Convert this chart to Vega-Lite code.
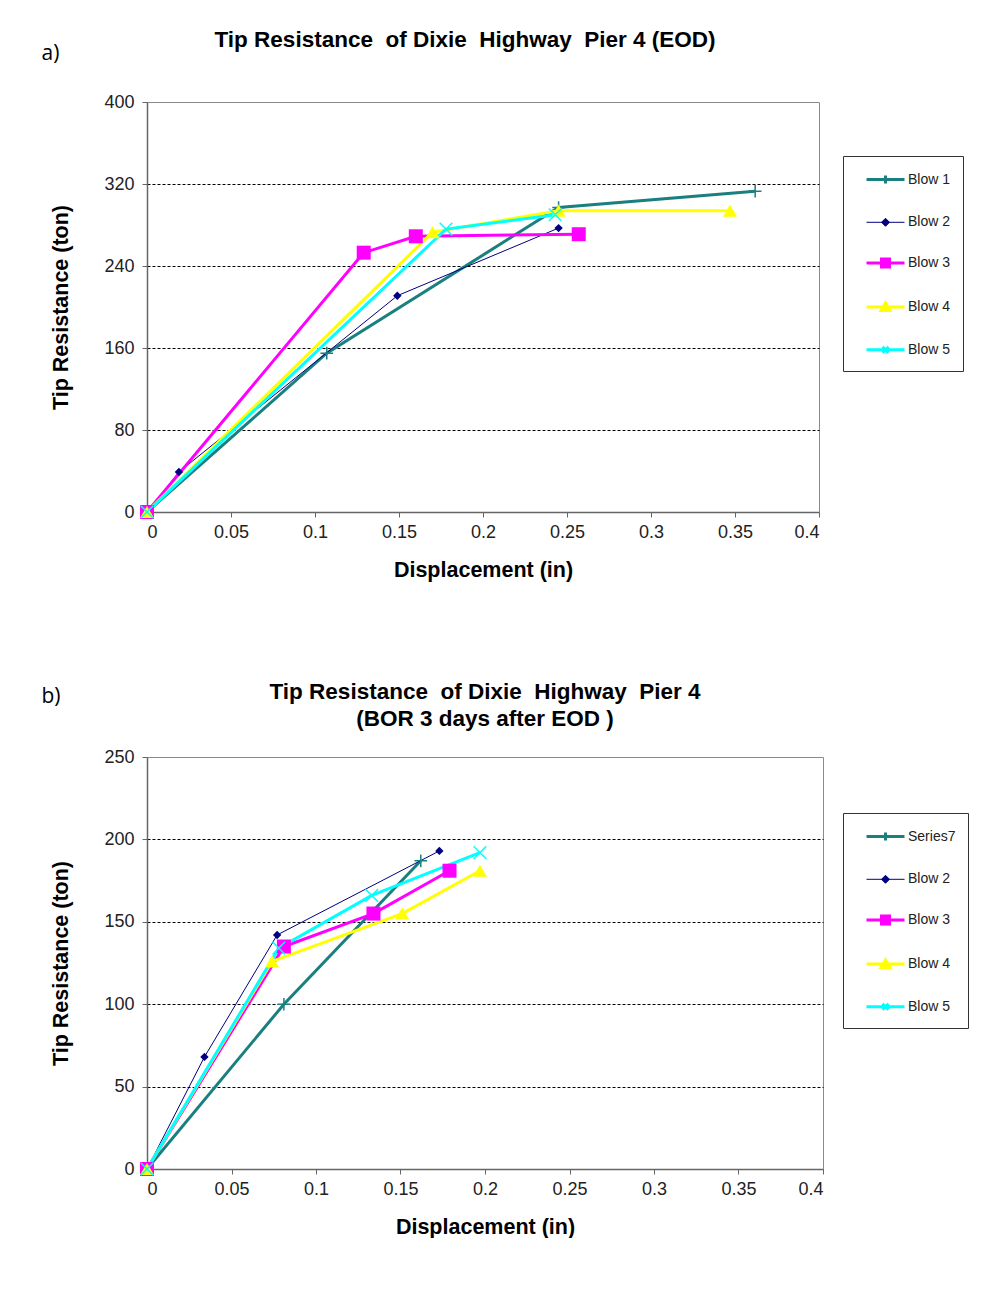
{
  "$schema": "https://vega.github.io/schema/vega-lite/v6.json",
  "padding": {"left": 41, "top": 28, "right": 0, "bottom": 0},
  "background": "white",
  "datasets": {
    "a": [
      {"series": "Blow 1", "x": 0, "y": 0},
      {"series": "Blow 1", "x": 0.107, "y": 155},
      {"series": "Blow 1", "x": 0.245, "y": 297},
      {"series": "Blow 1", "x": 0.362, "y": 313},
      {"series": "Blow 2", "x": 0, "y": 0},
      {"series": "Blow 2", "x": 0.019, "y": 39},
      {"series": "Blow 2", "x": 0.149, "y": 211},
      {"series": "Blow 2", "x": 0.245, "y": 277},
      {"series": "Blow 3", "x": 0, "y": 0},
      {"series": "Blow 3", "x": 0.129, "y": 253},
      {"series": "Blow 3", "x": 0.160, "y": 269},
      {"series": "Blow 3", "x": 0.257, "y": 271},
      {"series": "Blow 4", "x": 0, "y": 0},
      {"series": "Blow 4", "x": 0.170, "y": 273},
      {"series": "Blow 4", "x": 0.245, "y": 294},
      {"series": "Blow 4", "x": 0.347, "y": 294},
      {"series": "Blow 5", "x": 0, "y": 0},
      {"series": "Blow 5", "x": 0.178, "y": 276},
      {"series": "Blow 5", "x": 0.243, "y": 290}
    ],
    "b": [
      {"series": "Series7", "x": 0, "y": 0},
      {"series": "Series7", "x": 0.081, "y": 100},
      {"series": "Series7", "x": 0.162, "y": 187},
      {"series": "Blow 2", "x": 0, "y": 0},
      {"series": "Blow 2", "x": 0.034, "y": 68},
      {"series": "Blow 2", "x": 0.077, "y": 142},
      {"series": "Blow 2", "x": 0.173, "y": 193},
      {"series": "Blow 3", "x": 0, "y": 0},
      {"series": "Blow 3", "x": 0.081, "y": 135},
      {"series": "Blow 3", "x": 0.134, "y": 155},
      {"series": "Blow 3", "x": 0.179, "y": 181},
      {"series": "Blow 4", "x": 0, "y": 0},
      {"series": "Blow 4", "x": 0.074, "y": 126},
      {"series": "Blow 4", "x": 0.151, "y": 155},
      {"series": "Blow 4", "x": 0.197, "y": 181},
      {"series": "Blow 5", "x": 0, "y": 0},
      {"series": "Blow 5", "x": 0.078, "y": 134},
      {"series": "Blow 5", "x": 0.133, "y": 166},
      {"series": "Blow 5", "x": 0.197, "y": 192}
    ]
  },
  "config": {
    "font": "Liberation Sans",
    "view": {"stroke": "#8a8a8a", "strokeWidth": 1},
    "axis": {
      "labelFont": "Liberation Sans", "labelFontSize": 18, "labelColor": "#222",
      "titleFont": "Liberation Sans", "titleFontSize": 21.5, "titleFontWeight": "bold", "titleColor": "black",
      "domainColor": "#666", "tickColor": "#666", "tickSize": 5, "domainWidth": 1.5
    },
    "title": {"font": "Liberation Sans", "fontSize": 22.5, "fontWeight": "bold", "color": "black"},
    "legend": {
      "strokeColor": "#333", "padding": 12, "labelFont": "Liberation Sans", "labelFontSize": 14, "labelColor": "#222",
      "symbolType": "M0,0L3.8,0", "symbolSize": 400, "rowPadding": 21.8, "symbolStrokeWidth": 3, "labelOffset": 30
    }
  },
  "spacing": 99,
  "resolve": {
    "scale": {"color": "independent", "strokeWidth": "independent"},
    "legend": {"color": "independent", "strokeWidth": "independent"}
  },
  "vconcat": [
    {
      "title": {"text": "a)", "anchor": "start", "font": "Open Sans", "fontSize": 21, "fontWeight": "normal", "dy": 40, "dx": -9},
      "vconcat": [
        {
          "width": 672, "height": 410,
          "data": {"name": "a"},
          "title": {"text": "Tip Resistance\u00a0 of Dixie\u00a0 Highway\u00a0 Pier 4 (EOD)", "offset": 42, "dx": -18},
          "encoding": {
            "x": {"field": "x", "type": "quantitative", "scale": {"domain": [0, 0.4]},
              "axis": {"title": "Displacement (in)", "values": [0, 0.05, 0.1, 0.15, 0.2, 0.25, 0.3, 0.35, 0.4], "format": ".2~f", "grid": false, "labelPadding": 6, "titlePadding": 18}},
            "y": {"field": "y", "type": "quantitative", "scale": {"domain": [0, 400]},
              "axis": {"title": "Tip Resistance (ton)", "values": [0, 80, 160, 240, 320, 400], "grid": true, "gridDash": [3, 2], "gridColor": {"condition": {"test": "datum.value === 0 || datum.value === 400", "value": "transparent"}, "value": "black"}, "labelPadding": 8, "titlePadding": 31}},
            "color": {"field": "series", "type": "nominal",
              "scale": {"domain": ["Blow 1", "Blow 2", "Blow 3", "Blow 4", "Blow 5"], "range": ["#1a7f7f", "#000080", "#ff00ff", "#ffff00", "#00ffff"]},
              "legend": {"title": null, "orient": "none", "legendX": 696, "legendY": 54, "symbolType": "M0,0L3.8,0", "symbolSize": 400,
                "encode": {"symbols": {"update": {"shape": {"signal": "datum.value === 'Blow 2' ? 'M0,0L3.8,0M1.9,-0.4L2.3,0L1.9,0.4L1.5,0Z' : datum.value === 'Blow 3' ? 'M0,0L3.8,0M1.5,-0.4L2.3,-0.4L2.3,0.4L1.5,0.4Z' : datum.value === 'Blow 4' ? 'M0,0L3.8,0M1.9,-0.4L2.35,0.35L1.45,0.35Z' : datum.value === 'Blow 5' ? 'M0,0L3.8,0M1.6,-0.3L2.2,0.3M1.6,0.3L2.2,-0.3' : 'M0,0L3.8,0M1.9,-0.4L1.9,0.4'"}}}}}}
          },
          "layer": [
            {
              "mark": {"type": "line"},
              "encoding": {
                "strokeWidth": {"field": "series", "type": "nominal",
                  "scale": {"type": "ordinal", "domain": ["Blow 1", "Blow 2", "Blow 3", "Blow 4", "Blow 5"], "range": [3, 1, 3, 3, 3]},
                  "legend": {"title": null, "orient": "none", "legendX": 696, "legendY": 54}}
              }
            },
            {"transform": [{"filter": {"field": "series", "equal": "Blow 1"}}], "mark": {"type": "point", "shape": "M-1,0L1,0M0,-1L0,1", "size": 160, "filled": false, "opacity": 1, "strokeWidth": 1.5}},
            {"transform": [{"filter": {"field": "series", "equal": "Blow 2"}}], "mark": {"type": "point", "shape": "diamond", "size": 70, "filled": true, "opacity": 1}},
            {"transform": [{"filter": {"field": "series", "equal": "Blow 3"}}], "mark": {"type": "point", "shape": "square", "size": 196, "filled": true, "opacity": 1}},
            {"transform": [{"filter": {"field": "series", "equal": "Blow 4"}}], "mark": {"type": "point", "shape": "triangle-up", "size": 196, "filled": true, "opacity": 1}},
            {"transform": [{"filter": {"field": "series", "equal": "Blow 5"}}], "mark": {"type": "point", "shape": "M-1,-1L1,1M-1,1L1,-1", "size": 160, "filled": false, "opacity": 1, "strokeWidth": 1.5}}
          ]
        }
      ]
    },
    {
      "title": {"text": "b)", "anchor": "start", "font": "Open Sans", "fontSize": 21, "fontWeight": "normal", "dy": 31, "dx": -9},
      "vconcat": [
        {
          "width": 676, "height": 412,
          "data": {"name": "b"},
          "title": {"text": ["Tip Resistance\u00a0 of Dixie\u00a0 Highway\u00a0 Pier 4", "(BOR 3 days after EOD )"], "offset": 18, "lineHeight": 27},
          "encoding": {
            "x": {"field": "x", "type": "quantitative", "scale": {"domain": [0, 0.4]},
              "axis": {"title": "Displacement (in)", "values": [0, 0.05, 0.1, 0.15, 0.2, 0.25, 0.3, 0.35, 0.4], "format": ".2~f", "grid": false, "labelPadding": 6, "titlePadding": 18}},
            "y": {"field": "y", "type": "quantitative", "scale": {"domain": [0, 250]},
              "axis": {"title": "Tip Resistance (ton)", "values": [0, 50, 100, 150, 200, 250], "grid": true, "gridDash": [3, 2], "gridColor": {"condition": {"test": "datum.value === 0 || datum.value === 250", "value": "transparent"}, "value": "black"}, "labelPadding": 8, "titlePadding": 31}},
            "color": {"field": "series", "type": "nominal",
              "scale": {"domain": ["Series7", "Blow 2", "Blow 3", "Blow 4", "Blow 5"], "range": ["#1a7f7f", "#000080", "#ff00ff", "#ffff00", "#00ffff"]},
              "legend": {"title": null, "orient": "none", "legendX": 696, "legendY": 56, "symbolType": "M0,0L3.8,0", "symbolSize": 400,
                "encode": {"symbols": {"update": {"shape": {"signal": "datum.value === 'Blow 2' ? 'M0,0L3.8,0M1.9,-0.4L2.3,0L1.9,0.4L1.5,0Z' : datum.value === 'Blow 3' ? 'M0,0L3.8,0M1.5,-0.4L2.3,-0.4L2.3,0.4L1.5,0.4Z' : datum.value === 'Blow 4' ? 'M0,0L3.8,0M1.9,-0.4L2.35,0.35L1.45,0.35Z' : datum.value === 'Blow 5' ? 'M0,0L3.8,0M1.6,-0.3L2.2,0.3M1.6,0.3L2.2,-0.3' : 'M0,0L3.8,0M1.9,-0.4L1.9,0.4'"}}}}}}
          },
          "layer": [
            {
              "mark": {"type": "line"},
              "encoding": {
                "strokeWidth": {"field": "series", "type": "nominal",
                  "scale": {"type": "ordinal", "domain": ["Series7", "Blow 2", "Blow 3", "Blow 4", "Blow 5"], "range": [3, 1, 3, 3, 3]},
                  "legend": {"title": null, "orient": "none", "legendX": 696, "legendY": 56}}
              }
            },
            {"transform": [{"filter": {"field": "series", "equal": "Series7"}}], "mark": {"type": "point", "shape": "M-1,0L1,0M0,-1L0,1", "size": 160, "filled": false, "opacity": 1, "strokeWidth": 1.5}},
            {"transform": [{"filter": {"field": "series", "equal": "Blow 2"}}], "mark": {"type": "point", "shape": "diamond", "size": 70, "filled": true, "opacity": 1}},
            {"transform": [{"filter": {"field": "series", "equal": "Blow 3"}}], "mark": {"type": "point", "shape": "square", "size": 196, "filled": true, "opacity": 1}},
            {"transform": [{"filter": {"field": "series", "equal": "Blow 4"}}], "mark": {"type": "point", "shape": "triangle-up", "size": 196, "filled": true, "opacity": 1}},
            {"transform": [{"filter": {"field": "series", "equal": "Blow 5"}}], "mark": {"type": "point", "shape": "M-1,-1L1,1M-1,1L1,-1", "size": 160, "filled": false, "opacity": 1, "strokeWidth": 1.5}}
          ]
        }
      ]
    }
  ]
}
